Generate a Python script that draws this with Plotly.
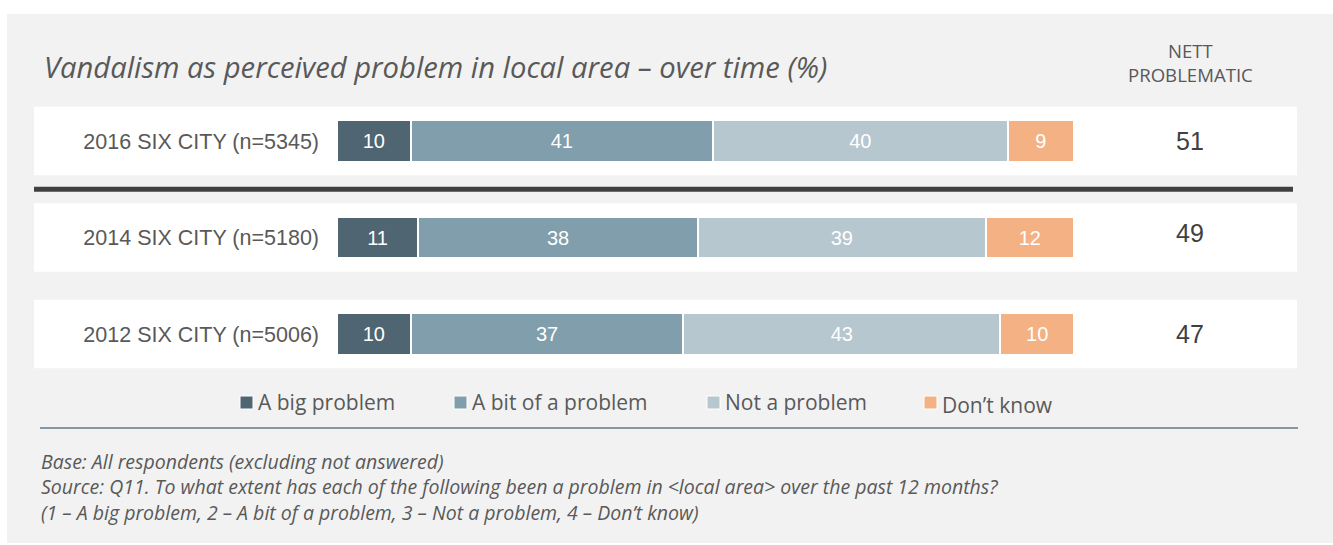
import plotly.graph_objects as go

# Survey results: share of respondents per answer, by wave
categories = ["2016 SIX CITY (n=5345)", "2014 SIX CITY (n=5180)", "2012 SIX CITY (n=5006)"]
series_names = ["A big problem", "A bit of a problem", "Not a problem", "Don’t know"]
big_problem = [10, 11, 10]
bit_of_a_problem = [41, 38, 37]
not_a_problem = [40, 39, 43]
dont_know = [9, 12, 10]
nett_problematic = [51, 49, 47]

title_text = "Vandalism as perceived problem in local area – over time (%)"
nett_header = "NETT<br>PROBLEMATIC"
footnotes = [
    "Base: All respondents (excluding not answered)",
    "Source: Q11. To what extent has each of the following been a problem in &lt;local area&gt; over the past 12 months?",
    "(1 – A big problem, 2 – A bit of a problem, 3 – Not a problem, 4 – Don’t know)",
]

colors = ["#4f6572", "#809eab", "#b6c7cf", "#f4b183"]
series_values = [big_problem, bit_of_a_problem, not_a_problem, dont_know]

W, H = 1333, 545


def px(x):
    return x / W


def py(y):
    return 1 - y / H


GREY_TEXT = "#595959"
SANS = "Liberation Sans, Arial, sans-serif"
OPEN = "Open Sans, sans-serif"

fig = go.Figure()
for name, vals, color in zip(series_names, series_values, colors):
    fig.add_trace(go.Bar(
        y=categories, x=vals, name=name, orientation="h",
        width=0.435,
        marker=dict(color=color, line=dict(color="white", width=2)),
        text=[str(v) for v in vals], textposition="inside",
        insidetextanchor="middle", textangle=0,
        textfont=dict(family=SANS, size=20, color="white"),
        hoverinfo="skip", showlegend=False,
    ))

shapes = []
# grey panel behind everything
shapes.append(dict(type="rect", xref="paper", yref="paper",
                   x0=px(7), x1=1.0, y0=py(543), y1=py(14),
                   fillcolor="#f2f2f2", line=dict(width=0), layer="below"))
# white band behind each row
for i in range(len(categories)):
    shapes.append(dict(type="rect", xref="paper", yref="y",
                       x0=px(34), x1=px(1297), y0=i - 0.355, y1=i + 0.355,
                       fillcolor="white", line=dict(width=0), layer="below"))
# heavy rule separating the latest wave from earlier ones
shapes.append(dict(type="line", xref="paper", yref="y",
                   x0=px(34), x1=px(1293), y0=0.5, y1=0.5,
                   line=dict(color="#404040", width=5), layer="below"))
# thin rule above the footnotes
shapes.append(dict(type="line", xref="paper", yref="paper",
                   x0=px(40), x1=px(1298), y0=py(428), y1=py(428),
                   line=dict(color="#8497a3", width=2)))

annotations = []
annotations.append(dict(text=f"<i>{title_text}</i>", xref="paper", yref="paper",
                        x=px(42), y=py(67), xanchor="left", yanchor="middle",
                        showarrow=False, font=dict(family=OPEN, size=29.2, color=GREY_TEXT)))
annotations.append(dict(text=nett_header, xref="paper", yref="paper",
                        x=px(1190), y=py(62.5), xanchor="center", yanchor="middle",
                        showarrow=False, font=dict(family=OPEN, size=18.6, color=GREY_TEXT)))
# the middle wave's figure sits a little higher than its bar
nett_shift = {1: 5}
for i, v in enumerate(nett_problematic):
    annotations.append(dict(text=str(v), xref="paper", yref="y",
                            x=px(1190), y=i, xanchor="center", yanchor="middle",
                            yshift=nett_shift.get(i, 0),
                            showarrow=False, font=dict(family=SANS, size=25, color="#404040")))

# custom legend row
legend_marker_left = [240, 454, 707, 924]
legend_text_y = [402, 402, 402, 405]
for name, color, mx, ty in zip(series_names, colors, legend_marker_left, legend_text_y):
    shapes.append(dict(type="rect", xref="paper", yref="paper",
                       x0=px(mx), x1=px(mx + 13), y0=py(409), y1=py(396),
                       fillcolor=color, line=dict(color="white", width=1)))
    annotations.append(dict(text=name, xref="paper", yref="paper",
                            x=px(mx + 16), y=py(ty), xanchor="left", yanchor="middle",
                            showarrow=False, font=dict(family=OPEN, size=21, color=GREY_TEXT)))

# footnote block, one text with line breaks
annotations.append(dict(text="<i>" + "<br>".join(footnotes) + "</i>", xref="paper", yref="paper",
                        x=px(39), y=py(487), xanchor="left", yanchor="middle", align="left",
                        showarrow=False, font=dict(family=OPEN, size=19.5, color=GREY_TEXT)))

fig.update_layout(
    width=W, height=H,
    margin=dict(l=0, r=0, t=0, b=0),
    paper_bgcolor="white", plot_bgcolor="rgba(0,0,0,0)",
    barmode="stack",
    xaxis=dict(domain=[px(337), px(1074)], range=[0, 100], visible=False, fixedrange=True),
    yaxis=dict(domain=[py(382.25), py(92.75)], type="category", categoryarray=categories,
               range=[2.5, -0.5], showgrid=False, zeroline=False, showline=False,
               ticks="", ticklabelstandoff=17,
               tickfont=dict(family=SANS, size=21.5, color=GREY_TEXT), fixedrange=True),
    shapes=shapes, annotations=annotations,
)

fig.write_html("out.html")
